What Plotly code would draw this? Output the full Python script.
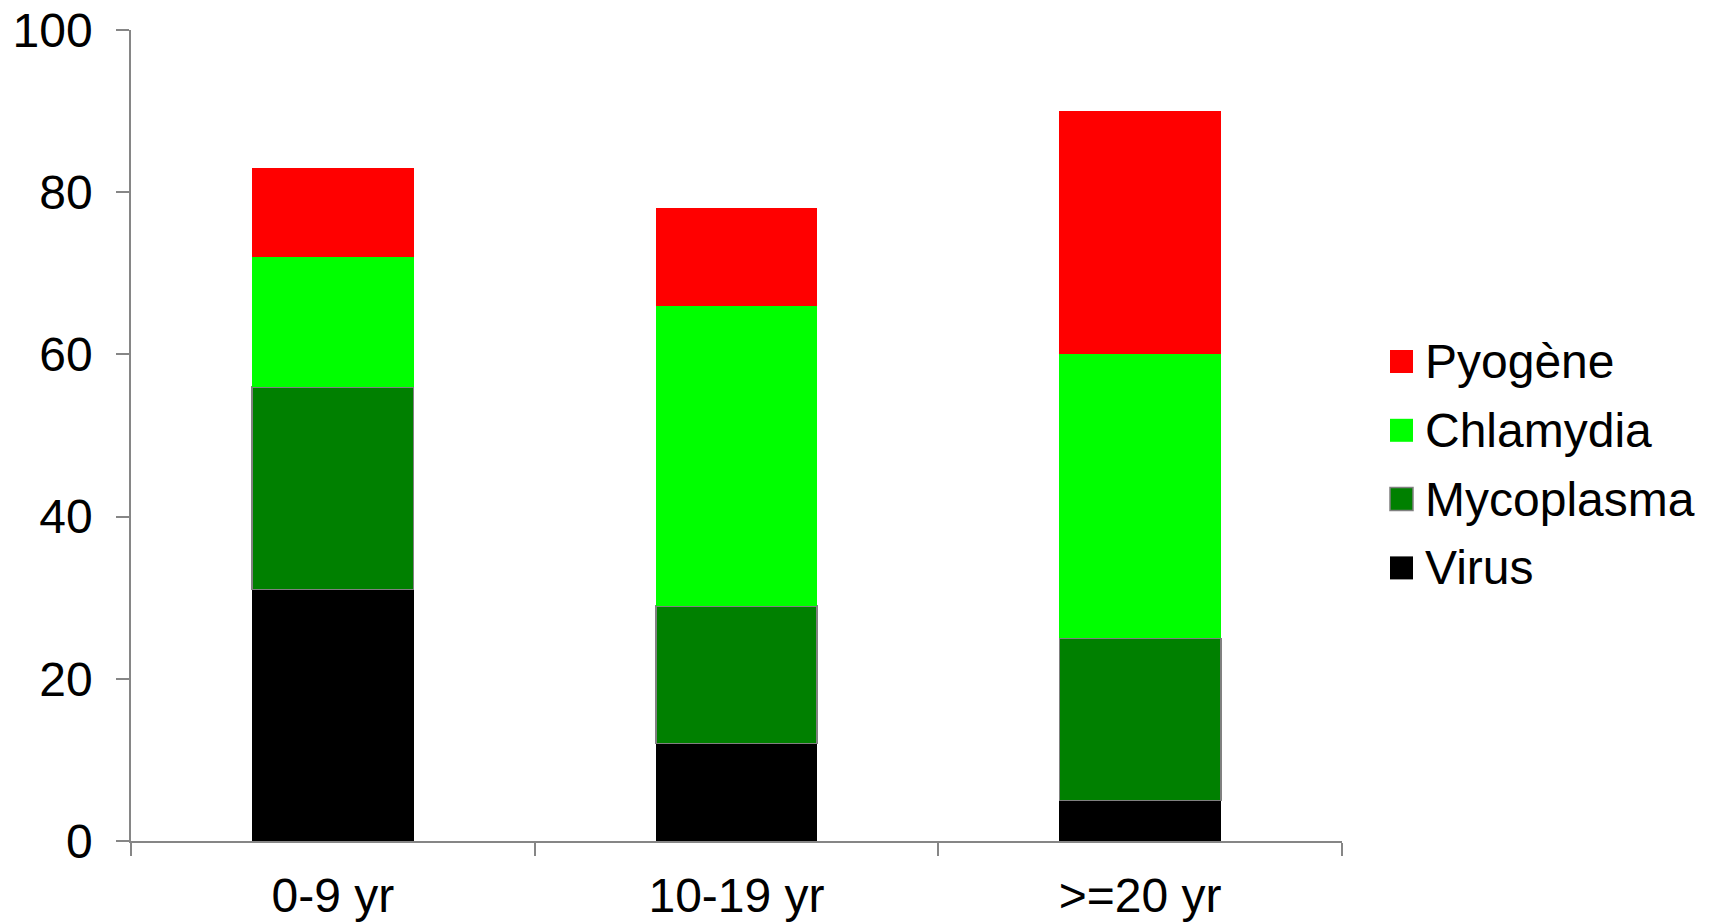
import plotly.graph_objects as go

# Age groups and infection causes (stacked, bottom to top)
age_groups = ["0-9 yr", "10-19 yr", ">=20 yr"]
virus = [31, 12, 5]
mycoplasma = [25, 17, 20]
chlamydia = [16, 37, 35]
pyogene = [11, 12, 30]

series_names = ["Virus", "Mycoplasma", "Chlamydia", "Pyogène"]
series_values = [virus, mycoplasma, chlamydia, pyogene]
series_colors = ["#000000", "#008000", "#00FF00", "#FF0000"]
series_edges = [None, "#808080", None, None]

y_ticks = [0, 20, 40, 60, 80, 100]

W, H = 1713, 923
L, R, T, B = 131, 371, 30, 82
FONT = "Liberation Sans, Arial, sans-serif"
FS = 48

fig = go.Figure()
for name, vals, col, edge in zip(series_names, series_values, series_colors, series_edges):
    fig.add_trace(go.Bar(
        x=age_groups, y=vals, name=name, width=0.4,
        marker=dict(color=col,
                    line=dict(color=edge if edge else col, width=1.5 if edge else 0)),
        showlegend=False,
    ))

# pixel -> paper helpers for the hand-built legend
pw, ph = W - L - R, H - T - B
def px(x):
    return (x - L) / pw
def py(y):
    return (H - B - y) / ph

shapes = []
annotations = []
legend_order = list(zip(series_names, series_colors, series_edges))[::-1]
for i, (name, col, edge) in enumerate(legend_order):
    cy = 361.5 + i * 68.8
    shapes.append(dict(
        type="rect", xref="paper", yref="paper",
        x0=px(1390), x1=px(1413), y0=py(cy + 11.5), y1=py(cy - 11.5),
        fillcolor=col, line=dict(color=edge if edge else col, width=1.5 if edge else 0),
    ))
    annotations.append(dict(
        xref="paper", yref="paper", x=px(1423), y=py(cy),
        xanchor="left", yanchor="middle", text=name, showarrow=False,
        font=dict(family=FONT, size=FS, color="#000000"),
    ))

fig.update_layout(
    width=W, height=H,
    margin=dict(l=L, r=R, t=T, b=B, autoexpand=False),
    barmode="stack",
    plot_bgcolor="white", paper_bgcolor="white",
    font=dict(family=FONT, size=FS, color="#000000"),
    shapes=shapes, annotations=annotations,
    showlegend=False,
)
fig.update_xaxes(
    type="category", range=[-0.5, 2.5], automargin=False,
    showline=True, linecolor="#868686", linewidth=1.5,
    ticks="outside", tickson="boundaries", ticklen=13, tickcolor="#868686", tickwidth=1.5,
    ticklabelstandoff=12,
    showgrid=False, zeroline=False,
    tickfont=dict(family=FONT, size=FS, color="#000000"),
)
fig.update_yaxes(
    range=[0, 100], tickvals=y_ticks, automargin=False,
    showline=True, linecolor="#868686", linewidth=1.5,
    ticks="outside", ticklen=13, tickcolor="#868686", tickwidth=1.5,
    ticklabelstandoff=14,
    showgrid=False, zeroline=False,
    tickfont=dict(family=FONT, size=FS, color="#000000"),
)

fig.write_html("out.html")
